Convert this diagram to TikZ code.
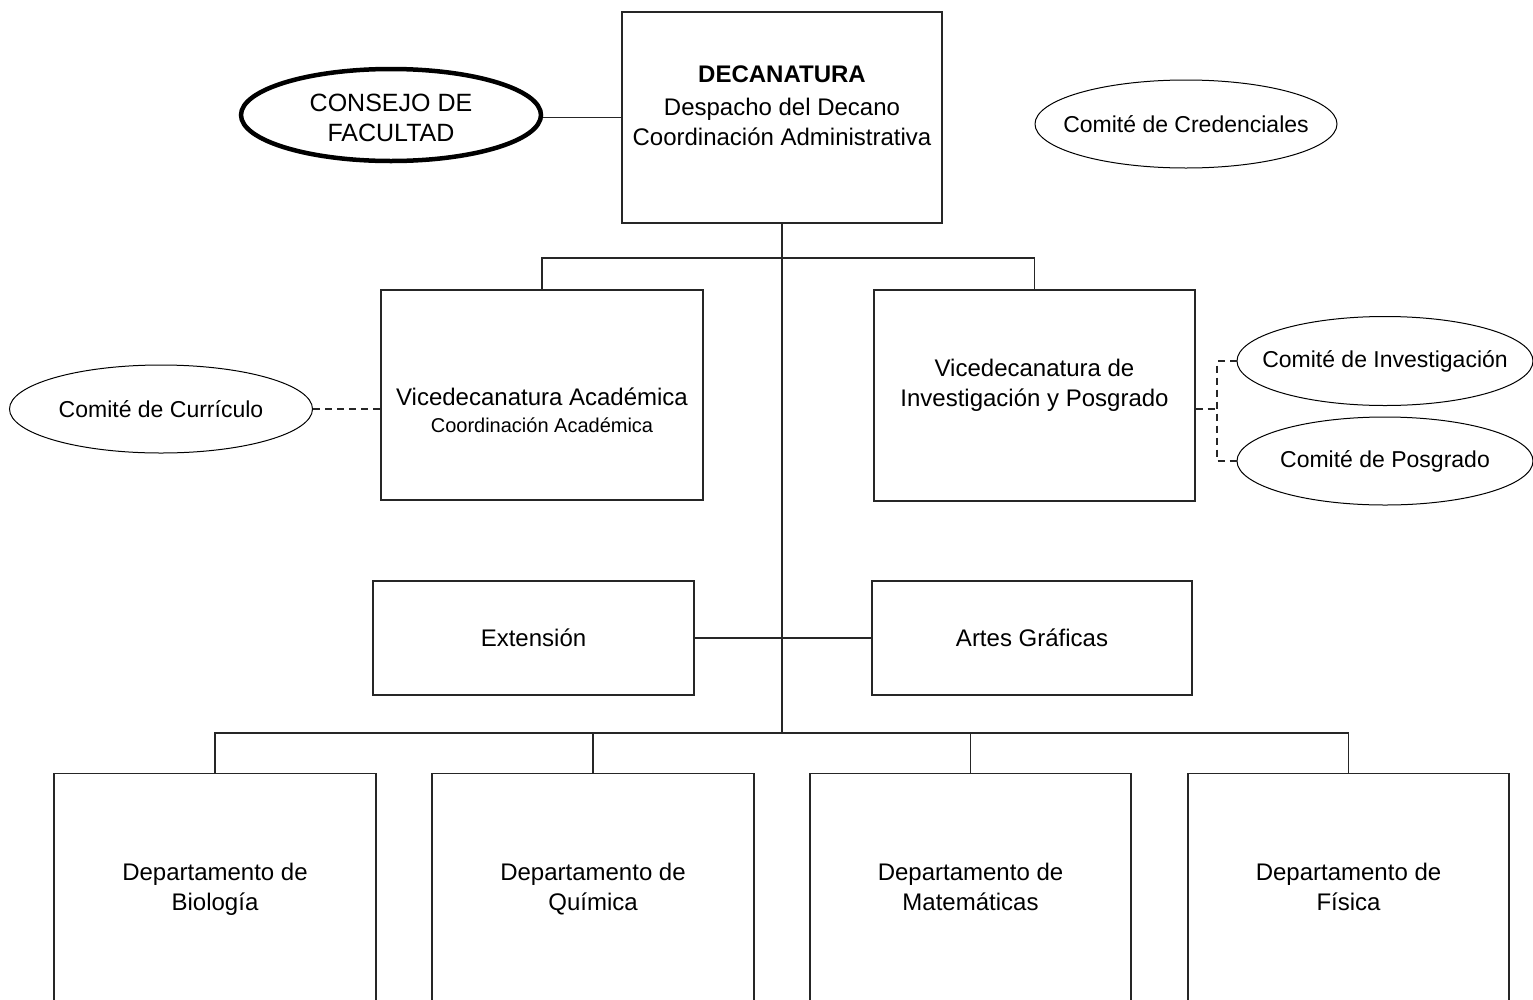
\documentclass[tikz,border=0pt]{standalone}
\usepackage{fontspec}
\setmainfont{Liberation Sans}
\usetikzlibrary{shapes.geometric}
\begin{document}
\begin{tikzpicture}[x=1pt,y=-1pt,
  box/.style={draw=black!85, line width=1.1pt, inner sep=0pt, fill=white},
  oval/.style={draw=black, ellipse, line width=1pt, inner sep=0pt, fill=white},
  link/.style={draw=black!85, line width=1.1pt},
  dlink/.style={draw=black!85, line width=1.1pt, dash pattern=on 7pt off 5pt},
  txt/.style={font=\fontsize{24}{30}\selectfont, align=center, inner sep=0pt},
  ovaltxt/.style={font=\fontsize{23}{28}\selectfont, align=center, inner sep=0pt},
  smalltxt/.style={font=\fontsize{20}{26}\selectfont, align=center, inner sep=0pt},
  bigtxt/.style={font=\fontsize{25}{30}\selectfont, align=center, inner sep=0pt}]
\clip (0,0) rectangle (1533,999);
\fill[white] (0,0) rectangle (1533,999);

% junction coordinates
\coordinate (b1) at (782,258);
\coordinate (b3) at (782,733);
\coordinate (jr) at (1217,409);

% Decanatura and trunk
\node[box, minimum width=320pt, minimum height=211pt] (dec) at (782,117.5) {};
\draw[link] (dec.south) -- (b3);
\node[txt, font=\fontsize{24}{30}\selectfont\bfseries] (dectitle) at (782,74) {DECANATURA};
\node[txt] (decsub) at (782,126) {Despacho del Decano\\Coordinaci\'on Administrativa\strut};

% Consejo
\node[oval, line width=4.5pt, minimum width=300pt, minimum height=92pt] (cons) at (391,115) {};
\node[bigtxt] (constxt) at (391,118) {CONSEJO DE\\FACULTAD};
\draw[link] (dec.west) -- (dec.west -| cons.east);

% Credenciales
\node[oval, minimum width=302pt, minimum height=88pt] (cred) at (1186,124) {};
\node[ovaltxt] (credtxt) at (cred.center) {Comit\'e de Credenciales};

% Vicedecanaturas
\node[box, minimum width=322pt, minimum height=210pt] (va) at (542,395) {};
\node[txt] (vatxt) at (542,397) {Vicedecanatura Acad\'emica};
\node[smalltxt] (vasub) at (542,425) {Coordinaci\'on Acad\'emica};
\node[box, minimum width=321pt, minimum height=211pt] (vi) at (1034.5,395.5) {};
\node[txt] (vitxt) at (1034.5,387) {Vicedecanatura de\\Investigaci\'on y Posgrado\strut};
\draw[link] (va.north) |- (b1) -| (vi.north);

% Comites
\node[oval, minimum width=303pt, minimum height=88pt] (curr) at (161,409) {};
\node[ovaltxt] (currtxt) at (curr.center) {Comit\'e de Curr\'iculo};
\draw[dlink] (curr.east) -- (curr.east -| va.west);

\node[oval, minimum width=296pt, minimum height=89pt] (cinv) at (1385,361) {};
\node[ovaltxt] (cinvtxt) at (cinv.center) {Comit\'e de Investigaci\'on};
\node[oval, minimum width=296pt, minimum height=88pt] (cpos) at (1385,461) {};
\node[ovaltxt] (cpostxt) at (cpos.center) {Comit\'e de Posgrado};
\draw[dlink] (jr -| vi.east) -- (jr);
\draw[dlink] (cinv.west) -| (jr) |- (cpos.west);

% Extension / Artes
\node[box, minimum width=321pt, minimum height=114pt] (ext) at (533.5,638) {};
\node[txt] (exttxt) at (ext.center) {Extensi\'on};
\node[box, minimum width=320pt, minimum height=114pt] (art) at (1032,638) {};
\node[txt] (arttxt) at (art.center) {Artes Gr\'aficas};
\draw[link] (ext.east) -- (art.west);

% Departamentos
\node[box, minimum width=322pt, minimum height=300pt, anchor=north] (d1) at (215,773) {};
\node[box, minimum width=322pt, minimum height=300pt, anchor=north] (d2) at (593,773) {};
\node[box, minimum width=321pt, minimum height=300pt, anchor=north] (d3) at (970.5,773) {};
\node[box, minimum width=321pt, minimum height=300pt, anchor=north] (d4) at (1348.5,773) {};
\node[txt] (d1txt) at (215,891) {Departamento de\\Biolog\'ia\strut};
\node[txt] (d2txt) at (593,891) {Departamento de\\Qu\'imica\strut};
\node[txt] (d3txt) at (970.5,891) {Departamento de\\Matem\'aticas\strut};
\node[txt] (d4txt) at (1348.5,891) {Departamento de\\F\'isica\strut};
\draw[link] (d1.north) |- (b3) -| (d4.north);
\draw[link] (d2.north) -- (d2.north |- b3);
\draw[link] (d3.north) -- (d3.north |- b3);
\end{tikzpicture}
\end{document}
